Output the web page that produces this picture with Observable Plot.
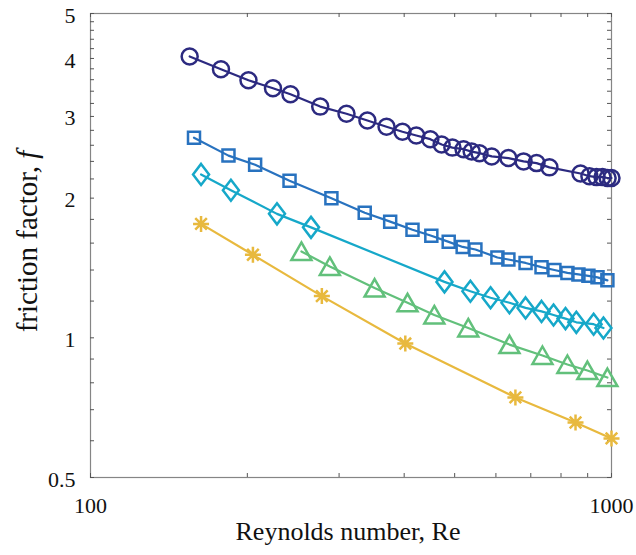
<!DOCTYPE html>
<html>
<head>
<meta charset="utf-8">
<script src="https://cdn.jsdelivr.net/npm/d3@7"></script>
<script src="https://cdn.jsdelivr.net/npm/@observablehq/plot@0.6"></script>
<style>
  html, body { margin: 0; padding: 0; background: #fff; }
  #chart svg { display: block; }
  #chart svg text, #chart svg tspan { font-family: "Liberation Serif", "DejaVu Serif", serif; }
</style>
</head>
<body>
<div id="chart"></div>
<script>
// ---- data ----
const seriesNames = ["circle", "square", "diamond", "triangle", "asterisk"];
const seriesColors = ["#2c2a80", "#2872bf", "#16a8c9", "#62c07b", "#e8b93e"];

const reCircle = [155, 178, 201, 224, 242, 276, 310, 340, 370, 397, 422, 449, 472, 495, 520, 539, 558, 589, 634, 678, 718, 760, 872, 907, 936, 961, 983, 1000];
const fCircle  = [4.04, 3.79, 3.59, 3.45, 3.35, 3.15, 3.04, 2.94, 2.85, 2.78, 2.73, 2.68, 2.61, 2.57, 2.55, 2.52, 2.50, 2.46, 2.44, 2.40, 2.38, 2.33, 2.26, 2.23, 2.22, 2.22, 2.21, 2.21];

const reSquare = [158, 184, 207, 241, 290, 336, 376, 415, 451, 487, 518, 548, 604, 634, 684, 734, 777, 823, 864, 903, 940, 982];
const fSquare  = [2.70, 2.47, 2.36, 2.18, 2.00, 1.86, 1.78, 1.71, 1.66, 1.61, 1.57, 1.55, 1.49, 1.475, 1.45, 1.42, 1.40, 1.38, 1.37, 1.36, 1.35, 1.33];

const reDiamond = [163, 186, 228, 265, 478, 536, 586, 637, 684, 734, 774, 816, 856, 924, 965];
const fDiamond  = [2.25, 2.08, 1.85, 1.73, 1.32, 1.26, 1.22, 1.19, 1.16, 1.14, 1.12, 1.10, 1.08, 1.07, 1.05];

const reTriangle = [254, 288, 351, 406, 457, 531, 637, 737, 823, 899, 982];
const fTriangle  = [1.535, 1.425, 1.28, 1.19, 1.12, 1.05, 0.967, 0.916, 0.876, 0.850, 0.821];

const reAsterisk = [163, 205, 278, 402, 654, 853, 1000];
const fAsterisk  = [1.76, 1.51, 1.23, 0.972, 0.744, 0.657, 0.607];

const xTicks = [100, 200, 300, 400, 500, 600, 700, 800, 900, 1000];
const xTickLabels = [100, 1000];
const yTicks = [0.5, 0.6, 0.7, 0.8, 0.9, 1, 1.2, 1.4, 1.6, 1.8, 2, 2.2, 2.4, 2.6, 2.8, 3, 3.2, 3.4, 3.6, 3.8, 4, 4.2, 4.4, 4.6, 4.8, 5];
const yTickLabels = [0.5, 1, 2, 3, 4, 5];

const xLabel = "Reynolds number, Re";
const yLabel = "friction factor, f";

// ---- build table ----
const seriesData = [
  [reCircle, fCircle], [reSquare, fSquare], [reDiamond, fDiamond],
  [reTriangle, fTriangle], [reAsterisk, fAsterisk]
];
const rows = [];
seriesData.forEach(([re, f], i) => re.forEach((r, j) => rows.push({series: seriesNames[i], re: r, f: f[j]})));

// ---- marker shapes ----
const symSquare = {draw(c) { c.moveTo(-6, -6); c.lineTo(6, -6); c.lineTo(6, 6); c.lineTo(-6, 6); c.closePath(); }};
const symDiamond = {draw(c) { c.moveTo(0, -10.5); c.lineTo(8, 0); c.lineTo(0, 10.5); c.lineTo(-8, 0); c.closePath(); }};
const symTriangle = {draw(c) { c.moveTo(0, -9); c.lineTo(10, 8.5); c.lineTo(-10, 8.5); c.closePath(); }};
const symAsterisk = {draw(c) {
  const a = 8, d = 5.8;
  c.moveTo(0, -a); c.lineTo(0, a);
  c.moveTo(-a, 0); c.lineTo(a, 0);
  c.moveTo(-d, -d); c.lineTo(d, d);
  c.moveTo(-d, d); c.lineTo(d, -d);
}};
const symbols = ["circle", symSquare, symDiamond, symTriangle, symAsterisk];

const W = 636, H = 555;
const mL = 90, mR = 25, mT = 13, mB = 78;
const innerW = W - mL - mR, innerH = H - mT - mB;
const tickLen = 4;
const FONT = "'Liberation Serif', 'DejaVu Serif', serif";

const marks = [
  Plot.frame({stroke: "#858585", strokeWidth: 1.2}),
  // inward ticks on all four sides
  Plot.tickX(xTicks, {x: d => d, insetTop: innerH - tickLen, stroke: "#555"}),
  Plot.tickX(xTicks, {x: d => d, insetBottom: innerH - tickLen, stroke: "#555"}),
  Plot.tickY(yTicks, {y: d => d, insetRight: innerW - tickLen, stroke: "#555"}),
  Plot.tickY(yTicks, {y: d => d, insetLeft: innerW - tickLen, stroke: "#555"}),
  Plot.axisX(xTickLabels, {tickSize: 0, tickPadding: 20, tickFormat: d => String(d), fontSize: 22, label: null}),
  Plot.axisY(yTickLabels, {tickSize: 0, tickPadding: 15, tickFormat: d => String(d), fontSize: 22, dy: 2, label: null}),
  Plot.text([xLabel], {text: d => d, frameAnchor: "bottom", textAnchor: "middle", lineAnchor: "bottom", dy: 62, dx: -3, fontSize: 26, fill: "#111"}),
  Plot.text([yLabel], {text: d => d, frameAnchor: "left", textAnchor: "middle", lineAnchor: "middle", rotate: -90, dx: -63, dy: -4, fontSize: 29, fill: "#111"}),
];

seriesNames.forEach((name, i) => {
  const data = rows.filter(r => r.series === name);
  marks.push(Plot.line(data, {x: "re", y: "f", stroke: seriesColors[i], strokeWidth: 2.2}));
  marks.push(Plot.dot(data, {x: "re", y: "f", symbol: symbols[i], r: 8, stroke: seriesColors[i], strokeWidth: 2.5, fill: "none"}));
});

const chart = Plot.plot({
  width: W, height: H,
  marginLeft: mL, marginRight: mR, marginTop: mT, marginBottom: mB,
  style: {background: "#fff", color: "#111", overflow: "visible"},
  x: {type: "log", domain: [100, 1000], axis: null},
  y: {type: "log", domain: [0.5, 5], axis: null},
  marks
});
chart.setAttribute("font-family", FONT);
document.getElementById("chart").appendChild(chart);

// italic "f" in the y label
const ns = "http://www.w3.org/2000/svg";
chart.querySelectorAll("text").forEach(t => {
  if (t.textContent === yLabel) {
    t.textContent = "";
    const a = document.createElementNS(ns, "tspan"); a.textContent = "friction factor, ";
    const b = document.createElementNS(ns, "tspan"); b.textContent = "f"; b.setAttribute("font-style", "italic");
    t.appendChild(a); t.appendChild(b);
  }
});
</script>
</body>
</html>
